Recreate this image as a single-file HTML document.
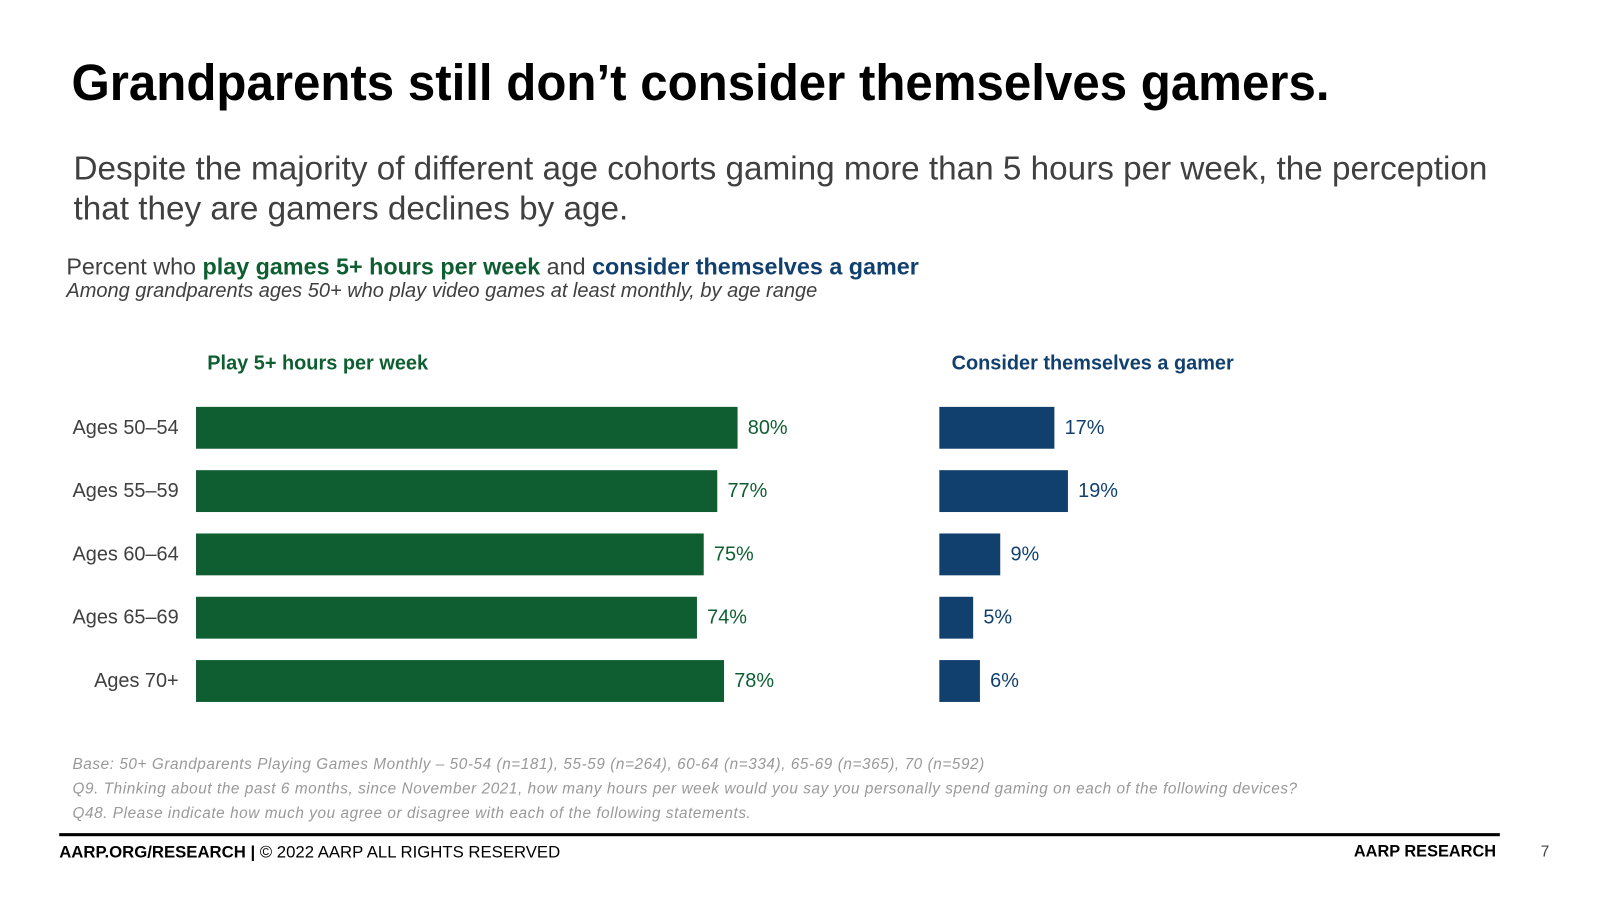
<!DOCTYPE html>
<html><head><meta charset="utf-8"><style>
html,body{margin:0;padding:0;width:1600px;height:900px;overflow:hidden;background:#fff}
#w{position:absolute;left:0;top:0;width:1570px;height:882px;transform:scale(1.021);transform-origin:0 0;font-family:"Liberation Sans",sans-serif}
.t{position:absolute;white-space:nowrap}
</style></head><body><div id="w">
<div class="t" style="left:70px;top:52px;font-size:50px;font-weight:bold;color:#000;transform:scaleX(0.964);transform-origin:0 0">Grandparents still don’t consider themselves gamers.</div>
<div class="t" style="left:72px;top:145px;font-size:32.6px;color:#404040;line-height:39px">Despite the majority of different age cohorts gaming more than 5 hours per week, the perception<br>that they are gamers declines by age.</div>
<div class="t" style="left:65px;top:248px;font-size:22.85px;color:#404040">Percent who <b style="color:#0e5e32">play games 5+ hours per week</b> and <b style="color:#12406e">consider themselves a gamer</b></div>
<div class="t" style="left:65px;top:274px;font-size:19.6px;font-style:italic;color:#404040">Among grandparents ages 50+ who play video games at least monthly, by age range</div>
<div class="t" style="left:203px;top:345px;font-size:19.5px;font-weight:bold;color:#0e5e32">Play 5+ hours per week</div>
<div class="t" style="left:932px;top:345px;font-size:19.5px;font-weight:bold;color:#12406e">Consider themselves a gamer</div>
<svg id="c" width="1570" height="882" style="position:absolute;left:0;top:0"></svg>
<div class="t" style="left:71px;top:737px;font-size:15px;letter-spacing:0.56px;font-style:italic;color:#999;line-height:24px">Base: 50+ Grandparents Playing Games Monthly – 50-54 (n=181), 55-59 (n=264), 60-64 (n=334), 65-69 (n=365), 70 (n=592)<br>Q9. Thinking about the past 6 months, since November 2021, how many hours per week would you say you personally spend gaming on each of the following devices?<br>Q48. Please indicate how much you agree or disagree with each of the following statements.</div>
<div style="position:absolute;left:58px;top:816px;width:1411px;height:3px;background:#000"></div>
<div class="t" style="left:58px;top:826px;font-size:16.4px;color:#000"><b>AARP.ORG/RESEARCH |</b> © 2022 AARP ALL RIGHTS RESERVED</div>
<div class="t" style="left:1326px;top:826px;font-size:16px;font-weight:bold;color:#000">AARP RESEARCH</div>
<div class="t" style="left:1509px;top:826px;font-size:15px;color:#444">7</div>
</div>
<script>
const categories=["Ages 50–54","Ages 55–59","Ages 60–64","Ages 65–69","Ages 70+"];
const playValues=[80,77,75,74,78];
const gamerValues=[17,19,9,5,6];
const svg=document.getElementById('c');const NS='http://www.w3.org/2000/svg';
const sx=v=>v*6.63;const rowY=i=>419+i*62;const BH=41;
function txt(x,y,s,fill,anchor){const t=document.createElementNS(NS,'text');t.setAttribute('x',x);t.setAttribute('y',y);t.setAttribute('fill',fill);t.setAttribute('font-size','19.5');t.setAttribute('font-family','Liberation Sans, sans-serif');t.setAttribute('text-anchor',anchor);t.setAttribute('dominant-baseline','central');t.textContent=s;svg.appendChild(t);return t;}
function bar(x,y,w,fill){const r=document.createElementNS(NS,'rect');r.setAttribute('x',x);r.setAttribute('y',y-BH/2);r.setAttribute('width',w);r.setAttribute('height',BH);r.setAttribute('fill',fill);svg.appendChild(r);return r;}
categories.forEach((c,i)=>{const y=rowY(i);
const l=txt(175,y,c,'#404040','end');


const g=bar(192,y,sx(playValues[i]),'#0e5e32');


const gl=txt(192+sx(playValues[i])+10,y,playValues[i]+'%','#0e5e32','start');


const b=bar(920,y,sx(gamerValues[i]),'#12406e');


const bl=txt(920+sx(gamerValues[i])+10,y,gamerValues[i]+'%','#12406e','start');


});
</script>
</body></html>
